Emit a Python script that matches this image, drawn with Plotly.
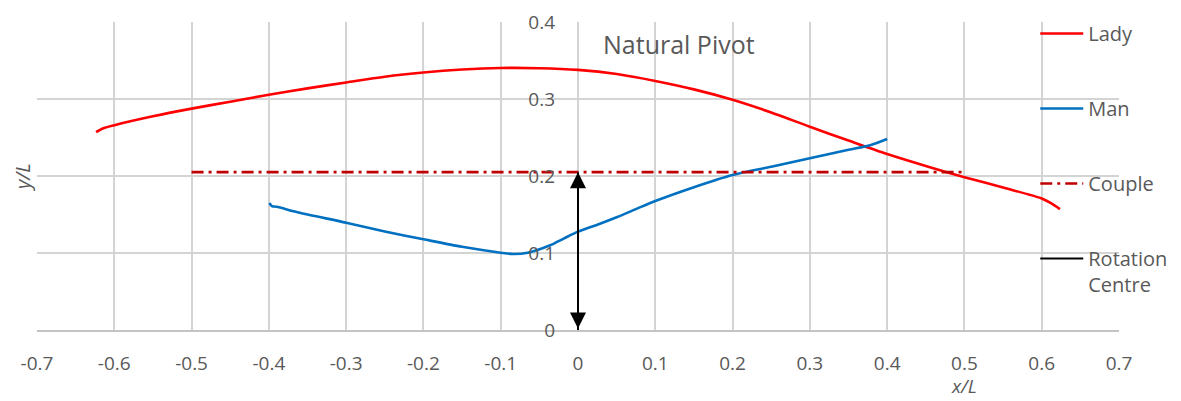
import plotly.graph_objects as go

# ---- data ----
lady_x = [-0.6236, -0.614, -0.6, -0.55, -0.5, -0.45, -0.4, -0.35, -0.3, -0.25, -0.2, -0.15,
          -0.1, -0.05, 0.0, 0.05, 0.1, 0.15, 0.2, 0.25, 0.3, 0.35, 0.4, 0.45, 0.5, 0.55,
          0.6, 0.612, 0.6236]
lady_y = [0.257, 0.262, 0.266, 0.2775, 0.2875, 0.2965, 0.3055, 0.3138, 0.3215, 0.3290, 0.3345, 0.3383,
          0.3403, 0.3400, 0.3378, 0.3325, 0.3235, 0.3125, 0.2990, 0.2825, 0.2640, 0.2460, 0.2285, 0.2130,
          0.1985, 0.1850, 0.1708, 0.1648, 0.157]

man_x = [-0.3994, -0.396, -0.39, -0.36, -0.3, -0.25, -0.2, -0.15, -0.1, -0.084, -0.065, -0.036,
         -0.018, 0.0, 0.025, 0.05, 0.075, 0.1, 0.15, 0.2, 0.25, 0.3, 0.35, 0.378, 0.4]
man_y = [0.165, 0.161, 0.160, 0.1523, 0.1394, 0.128, 0.1178, 0.108, 0.1004, 0.0987, 0.1004, 0.110,
         0.119, 0.1277, 0.1368, 0.1465, 0.157, 0.1675, 0.1855, 0.2013, 0.212, 0.223, 0.234, 0.240, 0.248]

couple_x = [-0.5, 0.5]
couple_y = [0.205, 0.205]

rot_x = [0.0, 0.0]
rot_y = [0.0, 0.205]

x_ticks = [-0.7, -0.6, -0.5, -0.4, -0.3, -0.2, -0.1, 0, 0.1, 0.2, 0.3, 0.4, 0.5, 0.6, 0.7]
x_tick_labels = ["-0.7", "-0.6", "-0.5", "-0.4", "-0.3", "-0.2", "-0.1", "0",
                 "0.1", "0.2", "0.3", "0.4", "0.5", "0.6", "0.7"]
y_ticks = [0, 0.1, 0.2, 0.3, 0.4]
y_tick_labels = ["0", "0.1", "0.2", "0.3", "0.4"]

FONT = "Open Sans"
GRAY = "#595959"
GRID = "#d4d4d4"

# page body has an 8px margin; figure sized/margined so plot area lands at (37..1119, 22..330)
W, H = 1173, 393
ML, MR, MT, MB = 29, 62, 14, 71
PW = W - ML - MR
PH = H - MT - MB
OFF = 8  # body margin


def px_to_paper_x(px):
    return (px - OFF - ML) / PW


def px_to_paper_y(py):
    return 1 - (py - OFF - MT) / PH


fig = go.Figure()
fig.add_trace(go.Scatter(x=lady_x, y=lady_y, mode="lines", name="Lady",
                         line=dict(color="#ff0000", width=2.6, shape="spline", smoothing=0.8),
                         legendgroup="a"))
fig.add_trace(go.Scatter(x=man_x, y=man_y, mode="lines", name="Man",
                         line=dict(color="#0070c0", width=2.6, shape="spline", smoothing=0.8),
                         legendgroup="b"))
fig.add_trace(go.Scatter(x=couple_x, y=couple_y, mode="lines", name="Couple",
                         line=dict(color="#c00000", width=2.6, dash="12px,5px,3px,5px"),
                         legendgroup="c"))
fig.add_trace(go.Scatter(x=rot_x, y=rot_y, mode="lines", name="Rotation<br>Centre",
                         line=dict(color="#000000", width=2),
                         legendgroup="d"))

# double-headed arrow on the rotation centre line
fig.add_annotation(x=rot_x[1], y=rot_y[1], ax=rot_x[0], ay=rot_y[0],
                   xref="x", yref="y", axref="x", ayref="y",
                   text="", showarrow=True, arrowside="end+start",
                   arrowhead=2, arrowsize=1.6, arrowwidth=2, arrowcolor="#000000",
                   standoff=0, startstandoff=0)

fig.add_annotation(x=0.131, y=0.372, xref="x", yref="y", text="Natural Pivot",
                   showarrow=False, font=dict(family=FONT, size=25, color=GRAY))

fig.add_annotation(x=0.5, y=px_to_paper_y(386), xref="x", yref="paper", text="<i>x/L</i>",
                   showarrow=False, xanchor="center", yanchor="middle",
                   font=dict(family=FONT, size=19, color=GRAY))
fig.add_annotation(x=px_to_paper_x(22), y=px_to_paper_y(177), xref="paper", yref="paper",
                   text="<i>y/L</i>", showarrow=False, textangle=-90,
                   xanchor="center", yanchor="middle",
                   font=dict(family=FONT, size=20, color=GRAY))

fig.update_layout(
    width=W, height=H,
    margin=dict(l=ML, r=MR, t=MT, b=MB, autoexpand=False),
    paper_bgcolor="white", plot_bgcolor="white",
    font=dict(family=FONT, size=19, color=GRAY),
    showlegend=True,
    legend=dict(x=0.9226, y=1.026, xanchor="left", yanchor="top",
                font=dict(family=FONT, size=20, color=GRAY),
                bgcolor="rgba(0,0,0,0)", tracegroupgap=46, valign="top",
                itemwidth=43, maxheight=400),
    xaxis=dict(range=[-0.7, 0.7], tickvals=x_ticks, ticktext=x_tick_labels,
               showgrid=True, gridcolor=GRID, gridwidth=1.5,
               zeroline=False, showline=True, linecolor="#c4c4c4", linewidth=1.5,
               ticks="", ticklabelstandoff=15,
               tickfont=dict(family=FONT, size=19, color=GRAY)),
    yaxis=dict(range=[0, 0.4], tickvals=y_ticks, ticktext=y_tick_labels,
               anchor="free", position=0.5,
               showgrid=True, gridcolor=GRID, gridwidth=1.5,
               zeroline=False, showline=False,
               ticks="", ticklabelstandoff=23,
               tickfont=dict(family=FONT, size=19, color=GRAY)),
)

fig.write_html("out.html")
